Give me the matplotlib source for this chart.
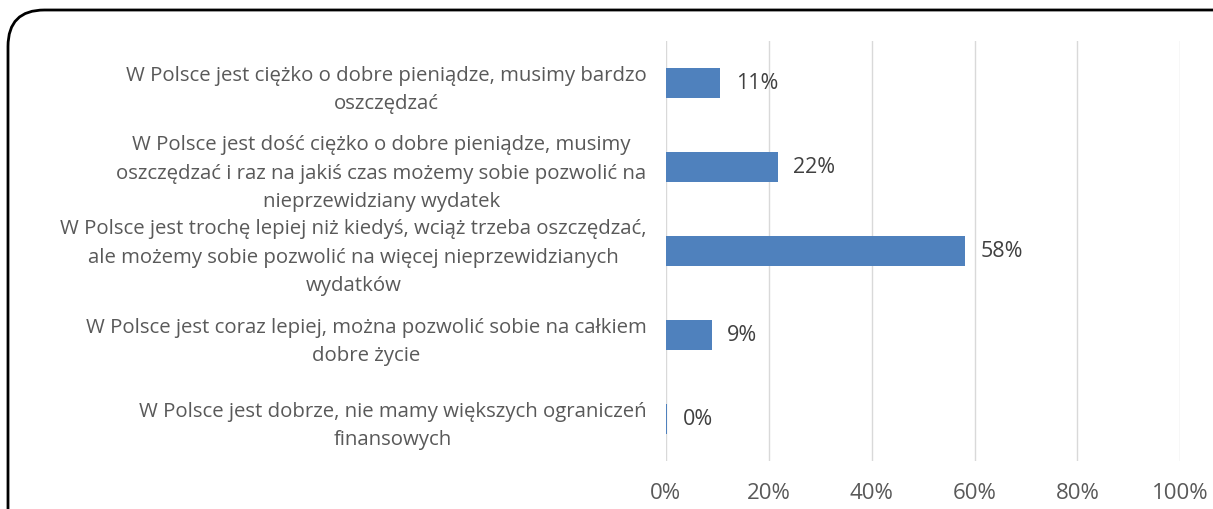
import matplotlib.pyplot as plt
from matplotlib.patches import FancyBboxPatch
from matplotlib.ticker import FuncFormatter

categories = [
    "W Polsce jest ciężko o dobre pieniądze, musimy bardzo\noszczędzać",
    "W Polsce jest dość ciężko o dobre pieniądze, musimy\noszczędzać i raz na jakiś czas możemy sobie pozwolić na\nnieprzewidziany wydatek",
    "W Polsce jest trochę lepiej niż kiedyś, wciąż trzeba oszczędzać,\nale możemy sobie pozwolić na więcej nieprzewidzianych\nwydatków",
    "W Polsce jest coraz lepiej, można pozwolić sobie na całkiem\ndobre życie",
    "W Polsce jest dobrze, nie mamy większych ograniczeń\nfinansowych",
]
values = [10.6, 21.8, 58.1, 8.9, 0.3]

text_color = "#595959"
bar_color = "#4F81BD"
plt.rcParams['font.family'] = ['Open Sans', 'DejaVu Sans']

fig = plt.figure(figsize=(12.13, 5.09), dpi=100)
ax = fig.add_axes([0.549, 0.0943, 0.424, 0.8251])

# rounded frame around the chart
frame = FancyBboxPatch((8 / 1213, -0.2), 1.2, 1.2 - 10 / 509,
                       boxstyle="round,pad=0,rounding_size=0.03",
                       transform=fig.transFigure, fill=False,
                       edgecolor="black", linewidth=2, mutation_aspect=1213 / 509)
fig.patches.append(frame)

y = list(range(len(categories)))
ax.barh(y, values, height=0.36, color=bar_color, zorder=3)
for yi, v in zip(y, values):
    ax.text(v + 3, yi, f"{v:.0f}%", va="center", ha="left", fontsize=15.5, color="#404040")

ax.set_yticks(y)
ax.set_yticklabels(categories, fontsize=14.7, color=text_color, multialignment="center", linespacing=1.55)
ax.set_ylim(len(categories) - 0.5, -0.5)
ax.set_xlim(0, 100)
ax.set_xticks(range(0, 101, 20))
ax.xaxis.set_major_formatter(FuncFormatter(lambda v, p: f"{v:.0f}%"))
ax.tick_params(axis="x", labelsize=16, labelcolor=text_color, length=0, pad=16)
ax.tick_params(axis="y", length=0, pad=14)
ax.grid(axis="x", color="#D9D9D9", linewidth=1, zorder=0)
for s in ax.spines.values():
    s.set_visible(False)

fig.savefig("out.png", dpi=100)
